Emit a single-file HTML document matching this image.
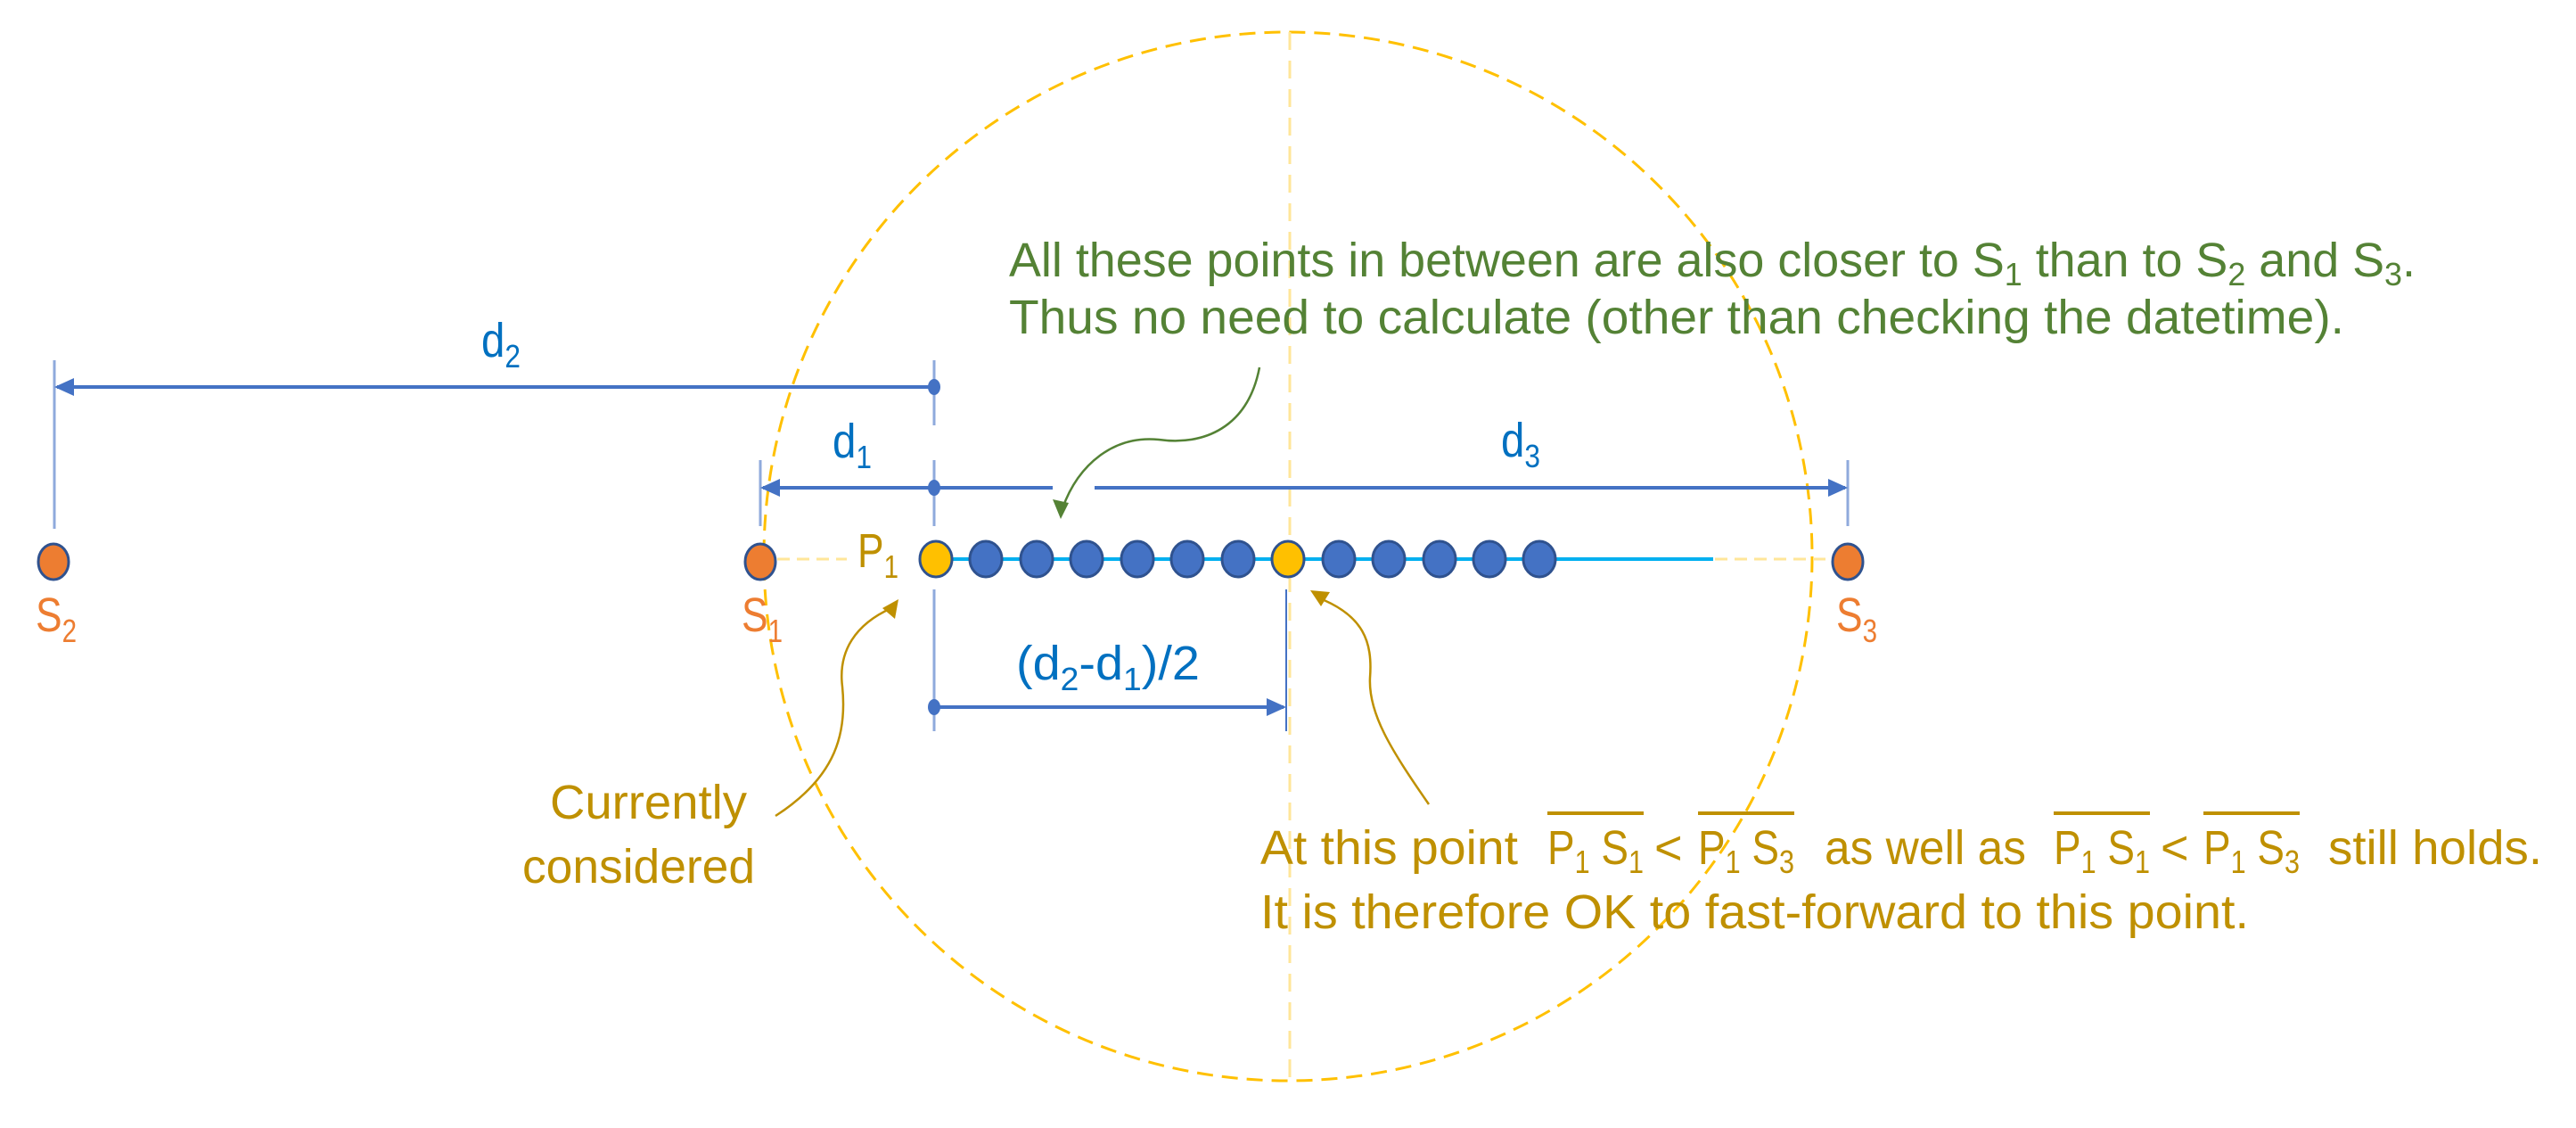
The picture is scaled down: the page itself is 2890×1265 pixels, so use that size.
<!DOCTYPE html>
<html><head><meta charset="utf-8"><style>
html,body{margin:0;padding:0;background:#fff;}
svg{display:block;}
text{font-family:"Liberation Sans",sans-serif;}
</style></head><body>
<svg width="2890" height="1265" viewBox="0 0 2890 1265" xmlns="http://www.w3.org/2000/svg">
<!-- yellow dashed circle & vertical -->
<circle cx="1445" cy="624" r="588" fill="none" stroke="#FFC000" stroke-width="3" stroke-dasharray="18 10"/>
<line x1="1447" y1="36" x2="1447" y2="1212" stroke="#FFE699" stroke-width="3" stroke-dasharray="20 12"/>

<!-- tick lines -->
<g stroke="#8FAADC" stroke-width="3">
<line x1="61" y1="404" x2="61" y2="593"/>
<line x1="1048" y1="404" x2="1048" y2="477"/>
<line x1="1048" y1="516" x2="1048" y2="590"/>
<line x1="853" y1="516" x2="853" y2="590"/>
<line x1="2073" y1="516" x2="2073" y2="590"/>
<line x1="1048" y1="661" x2="1048" y2="820"/>
</g>
<line x1="1443" y1="661" x2="1443" y2="820" stroke="#4472C4" stroke-width="2"/>

<!-- dimension lines -->
<g stroke="#4472C4" stroke-width="4" fill="none">
<line x1="1048" y1="434" x2="64" y2="434"/>
<line x1="1048" y1="547" x2="856" y2="547"/>
<line x1="1048" y1="547" x2="1181" y2="547"/>
<line x1="1228" y1="547" x2="2070" y2="547"/>
<line x1="1048" y1="793" x2="1440" y2="793"/>
</g>
<g fill="#4472C4">
<path d="M61,434 l22,-10 v20 z"/>
<path d="M853,547 l22,-10 v20 z"/>
<path d="M2073,547 l-22,-10 v20 z"/>
<path d="M1443,793 l-22,-10 v20 z"/>
<ellipse cx="1048" cy="434" rx="7" ry="9"/>
<ellipse cx="1048" cy="547" rx="7" ry="9"/>
<ellipse cx="1048" cy="793" rx="7" ry="9"/>
</g>

<!-- dashed connectors -->
<g stroke="#FFE699" stroke-width="3" stroke-dasharray="14 8">
<line x1="872" y1="627" x2="950" y2="627"/>
<line x1="1924" y1="627" x2="2055" y2="627"/>
</g>
<line x1="1050" y1="627" x2="1922" y2="627" stroke="#00B0F0" stroke-width="4"/>

<!-- dots -->
<g stroke="#2F528F" stroke-width="3">
<ellipse cx="60" cy="630" rx="17" ry="20" fill="#ED7D31"/>
<ellipse cx="853" cy="630" rx="17" ry="20" fill="#ED7D31"/>
<ellipse cx="2073" cy="630" rx="17" ry="20" fill="#ED7D31"/>
<ellipse cx="1050" cy="627" rx="18" ry="20" fill="#FFC000"/>
<ellipse cx="1106" cy="627" rx="18" ry="20" fill="#4472C4"/>
<ellipse cx="1163" cy="627" rx="18" ry="20" fill="#4472C4"/>
<ellipse cx="1219" cy="627" rx="18" ry="20" fill="#4472C4"/>
<ellipse cx="1276" cy="627" rx="18" ry="20" fill="#4472C4"/>
<ellipse cx="1332" cy="627" rx="18" ry="20" fill="#4472C4"/>
<ellipse cx="1389" cy="627" rx="18" ry="20" fill="#4472C4"/>
<ellipse cx="1445" cy="627" rx="18" ry="20" fill="#FFC000"/>
<ellipse cx="1502" cy="627" rx="18" ry="20" fill="#4472C4"/>
<ellipse cx="1558" cy="627" rx="18" ry="20" fill="#4472C4"/>
<ellipse cx="1615" cy="627" rx="18" ry="20" fill="#4472C4"/>
<ellipse cx="1671" cy="627" rx="18" ry="20" fill="#4472C4"/>
<ellipse cx="1727" cy="627" rx="18" ry="20" fill="#4472C4"/>
</g>

<!-- curved arrows -->
<path d="M1413,412 C1400,480 1350,500 1300,493 C1250,488 1210,520 1192,570" fill="none" stroke="#548235" stroke-width="2.5"/>
<path d="M1190,582 l-9,-22 l18,4 z" fill="#548235"/>
<path d="M870,915 C940,870 950,820 945,770 C940,730 960,700 1000,682" fill="none" stroke="#BF9000" stroke-width="2.5"/>
<path d="M1008,672 l-4,22 l-14,-12 z" fill="#BF9000"/>
<path d="M1603,902 C1560,840 1535,800 1537,760 C1540,720 1530,690 1478,670" fill="none" stroke="#BF9000" stroke-width="2.5"/>
<path d="M1470,662 l22,2 l-10,16 z" fill="#BF9000"/>

<!-- blue labels -->
<g fill="#0070C0" font-size="54">
<text x="540" y="400" textLength="44" lengthAdjust="spacingAndGlyphs">d<tspan font-size="36" dy="12">2</tspan></text>
<text x="934" y="513" textLength="44" lengthAdjust="spacingAndGlyphs">d<tspan font-size="36" dy="12">1</tspan></text>
<text x="1684" y="512" textLength="44" lengthAdjust="spacingAndGlyphs">d<tspan font-size="36" dy="12">3</tspan></text>
<text x="1140" y="762" textLength="206" lengthAdjust="spacingAndGlyphs">(d<tspan font-size="36" dy="12">2</tspan><tspan dy="-12">-d</tspan><tspan font-size="36" dy="12">1</tspan><tspan dy="-12">)/2</tspan></text>
</g>
<!-- orange labels -->
<g fill="#ED7D31" font-size="54">
<text x="40" y="708" textLength="46" lengthAdjust="spacingAndGlyphs">S<tspan font-size="36" dy="12">2</tspan></text>
<text x="832" y="708" textLength="46" lengthAdjust="spacingAndGlyphs">S<tspan font-size="36" dy="12">1</tspan></text>
<text x="2060" y="708" textLength="46" lengthAdjust="spacingAndGlyphs">S<tspan font-size="36" dy="12">3</tspan></text>
</g>
<text x="962" y="636" fill="#BF9000" font-size="54" textLength="46" lengthAdjust="spacingAndGlyphs">P<tspan font-size="36" dy="12">1</tspan></text>

<!-- green text -->
<g fill="#548235" font-size="54">
<text x="1132" y="310" textLength="1578" lengthAdjust="spacingAndGlyphs">All these points in between are also closer to S<tspan font-size="36" dy="10">1</tspan><tspan dy="-10"> than to S</tspan><tspan font-size="36" dy="10">2</tspan><tspan dy="-10"> and S</tspan><tspan font-size="36" dy="10">3</tspan><tspan dy="-10">.</tspan></text>
<text x="1132" y="374" textLength="1498" lengthAdjust="spacingAndGlyphs">Thus no need to calculate (other than checking the datetime).</text>
</g>

<!-- gold text -->
<g fill="#BF9000" font-size="54">
<text x="617" y="918" textLength="221" lengthAdjust="spacingAndGlyphs">Currently</text>
<text x="586" y="990" textLength="261" lengthAdjust="spacingAndGlyphs">considered</text>
<text x="1414" y="969" textLength="289" lengthAdjust="spacingAndGlyphs">At this point</text>
<text x="1736" y="969" textLength="108" lengthAdjust="spacingAndGlyphs">P<tspan font-size="36" dy="10">1</tspan><tspan dy="-10"> S</tspan><tspan font-size="36" dy="10">1</tspan></text>
<text x="1856" y="969">&lt;</text>
<text x="1905" y="969" textLength="108" lengthAdjust="spacingAndGlyphs">P<tspan font-size="36" dy="10">1</tspan><tspan dy="-10"> S</tspan><tspan font-size="36" dy="10">3</tspan></text>
<text x="2047" y="969" textLength="226" lengthAdjust="spacingAndGlyphs">as well as</text>
<text x="2304" y="969" textLength="108" lengthAdjust="spacingAndGlyphs">P<tspan font-size="36" dy="10">1</tspan><tspan dy="-10"> S</tspan><tspan font-size="36" dy="10">1</tspan></text>
<text x="2424" y="969">&lt;</text>
<text x="2472" y="969" textLength="108" lengthAdjust="spacingAndGlyphs">P<tspan font-size="36" dy="10">1</tspan><tspan dy="-10"> S</tspan><tspan font-size="36" dy="10">3</tspan></text>
<text x="2612" y="969" textLength="240" lengthAdjust="spacingAndGlyphs">still holds.</text>
<text x="1414" y="1041" textLength="1109" lengthAdjust="spacingAndGlyphs">It is therefore OK to fast-forward to this point.</text>
</g>
<g stroke="#BF9000" stroke-width="4">
<line x1="1736" y1="912" x2="1844" y2="912"/>
<line x1="1905" y1="912" x2="2013" y2="912"/>
<line x1="2304" y1="912" x2="2412" y2="912"/>
<line x1="2472" y1="912" x2="2580" y2="912"/>
</g>
</svg>
</body></html>
